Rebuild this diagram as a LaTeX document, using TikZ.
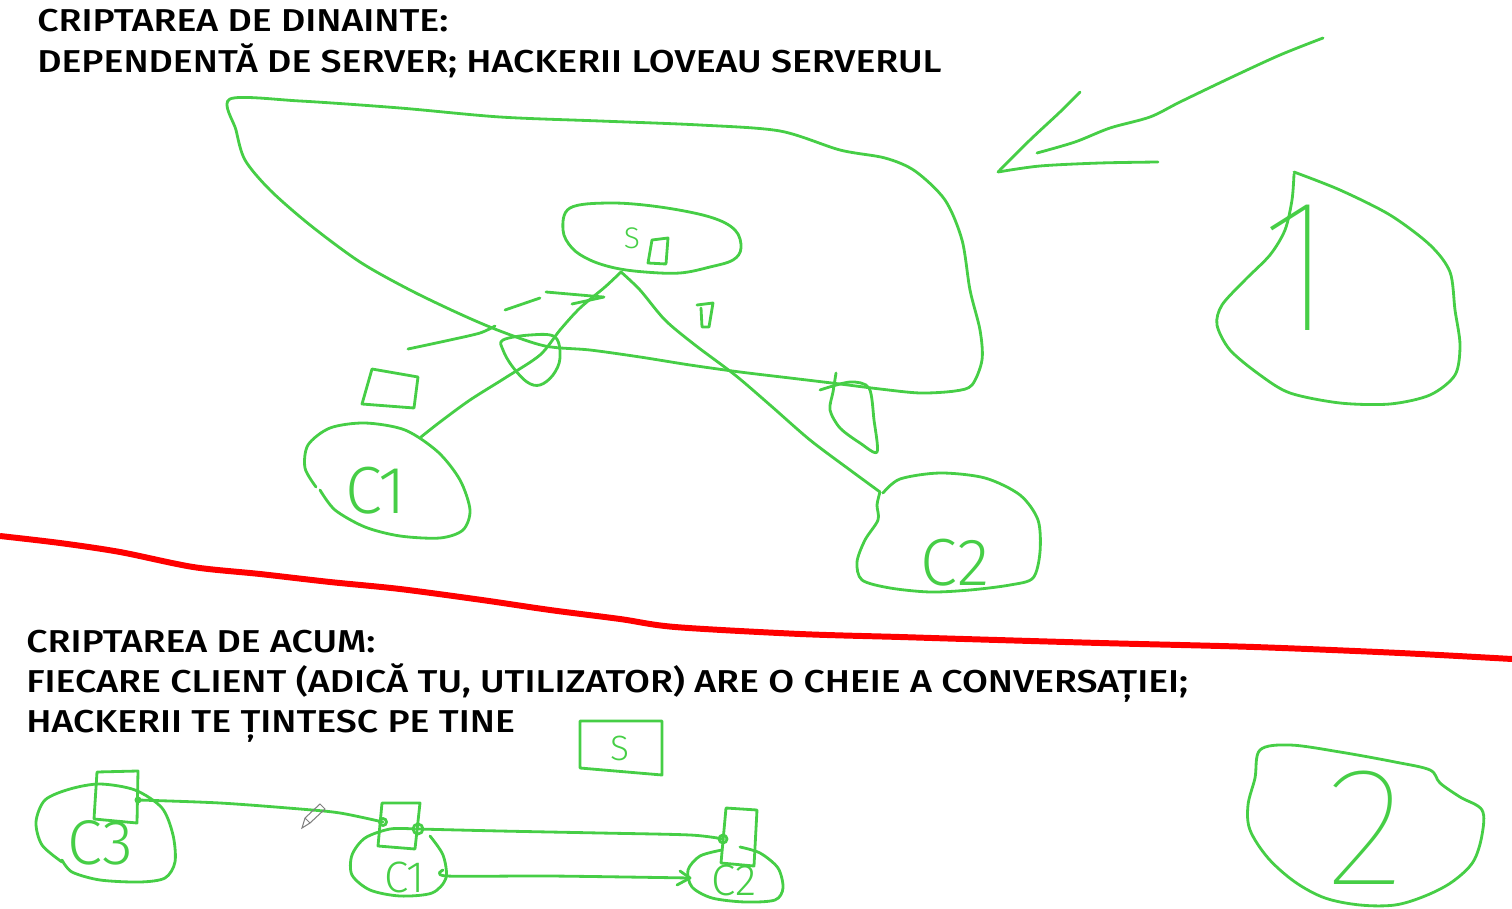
\documentclass[tikz,border=0pt]{standalone}
\usepackage{fontspec}
\setmainfont{Fira Sans}
\newfontfamily\headfont{Fira Sans Medium}[FakeStretch=1.185]
\newfontfamily\handfont{Fira Sans Light}
\newfontfamily\thinfont{Fira Sans Thin}
\usetikzlibrary{positioning,calc}
\definecolor{pen}{RGB}{70,206,70}
\definecolor{cutline}{RGB}{255,0,0}

\begin{document}
\begin{tikzpicture}[x=0.02cm,y=-0.02cm,
         ink/.style = {draw=pen, line width=1.6pt, line cap=round, line join=round},
         cut/.style = {draw=cutline, line width=3.4pt},
         heading/.style = {anchor=base west, inner sep=0pt,
         font=\headfont\fontsize{18}{20}\selectfont},
         hand/.style = {text=pen, inner sep=0pt, font=\handfont},
         bighand/.style = {text=pen, inner sep=0pt, font=\thinfont}
]
      \useasboundingbox (0,0) rectangle (1512,909);

      % headings
      \node[heading] (h1) at (37,32) {CRIPTAREA DE DINAINTE:};
      \node[heading] (h2) at (37,73) {DEPENDENTĂ DE SERVER; HACKERII LOVEAU SERVERUL};
      \node[heading] (h3) at (26,652) {CRIPTAREA DE ACUM:};
      \node[heading] (h4) at (26,692) {FIECARE CLIENT (ADICĂ TU, UTILIZATOR) ARE O CHEIE A CONVERSAȚIEI;};
      \node[heading] (h5) at (26,732) {HACKERII TE ȚINTESC PE TINE};

      % separator
      \draw[cut] plot[smooth] coordinates {(0,536) (60,543) (120,552) (193,567)
         (260,574) (330,582) (400,589) (482,600) (550,610) (620,619) (675,627)
         (800,634) (900,637) (964,639) (1100,643) (1254,647) (1400,653) (1512,659)};

      % --- before: server in the middle ---
      \coordinate (s0) at (621,272);
      \coordinate (c1top) at (421,437);
      \coordinate (c2top) at (880,492);

      % big loop
      \draw[ink] plot[smooth cycle, tension=0.5] coordinates {(230,99) (300,101)
         (400,108) (500,117) (600,121) (700,125) (780,131) (840,150) (885,158)
         (915,171) (945,200) (962,240) (970,290) (980,330) (982,360) (972,385)
         (955,391) (920,393) (880,389) (840,384) (790,378) (740,372) (690,365)
         (640,357) (590,350) (545,346) (500,331) (460,314) (410,290) (360,262)
         (310,225) (270,190) (245,160) (236,130)};

      % server
      \draw[ink] plot[smooth cycle, tension=0.6] coordinates {(570,208) (610,203)
         (660,207) (710,217) (735,230) (741,248) (733,260) (710,267) (680,273)
         (645,272) (615,268) (590,260) (572,248) (563,230)};
      \node[hand, font=\handfont\fontsize{17}{17}\selectfont] (sname) at (632,238) {S};
      \draw[ink] (652,240) -- (668,238) -- (666,264) -- (648,263) -- cycle;

      % links to the clients
      \draw[ink] plot[smooth] coordinates {(s0) (605,287) (580,308) (560,330)
         (540,355) (505,378) (470,400) (440,422) (c1top)};
      \draw[ink] plot[smooth] coordinates {(s0) (640,290) (665,320) (695,345)
         (735,375) (770,405) (810,440) (850,470) (c2top)};

      % attack on the link
      \draw[ink] plot[smooth] coordinates {(408,349) (450,340) (480,333) (495,326)};
      \draw[ink] plot[smooth cycle, tension=0.6] coordinates {(503,340) (530,335)
         (555,337) (560,358) (553,375) (540,385) (527,382) (512,366) (503,350)};
      \draw[ink] (505,310) -- (540,298);
      \draw[ink] (546,292) -- (603,297);
      \draw[ink] (572,304) -- (604,297);

      % keys
      \draw[ink] (372,369) -- (418,377) -- (414,408) -- (362,404) -- cycle;
      \draw[ink] (697,305) -- (713,303) -- (709,327) -- (702,327) -- (701,308);
      \draw[ink] plot[smooth] coordinates {(836,373) (833,392) (830,410) (840,428)
         (860,443) (877,452) (874,420) (869,388) (850,382) (820,390)};

      % client 1
      \draw[ink] plot[smooth] coordinates {(316,487) (305,468) (308,445) (330,428)
         (365,423) (405,430) (438,452) (460,480) (470,510) (463,530) (440,538)
         (400,536) (365,527) (335,510) (320,490)};
      \node[hand, font=\handfont\fontsize{38}{38}\selectfont] (c1) at (376,491) {C1};

      % client 2
      \draw[ink] plot[smooth] coordinates {(c2top) (877,505) (878,520) (865,540)
         (857,562) (862,580) (890,588) (930,592) (970,590) (1010,585) (1033,578)
         (1040,552) (1038,520) (1020,495) (985,478) (940,473) (900,479) (883,493)};
      \node[hand, font=\handfont\fontsize{38}{38}\selectfont] (c2) at (955,563) {C2};

      % arrow to the server
      \draw[ink] plot[smooth] coordinates {(1323,38) (1280,55) (1230,78) (1180,102)
         (1150,117) (1110,128) (1075,142) (1037,153)};
      \draw[ink] plot[smooth] coordinates {(1080,92) (1060,112) (1030,140) (998,172)};
      \draw[ink] plot[smooth] coordinates {(998,172) (1040,166) (1100,163) (1158,162)};

      % mark 1
      \draw[ink] plot[smooth] coordinates {(1294,172) (1340,190) (1390,215)
         (1430,245) (1450,272) (1455,310) (1460,345) (1455,375) (1430,395)
         (1390,404) (1340,403) (1290,393) (1260,375) (1230,350) (1217,325)
         (1222,305) (1245,280) (1270,255) (1285,230) (1292,200) (1294,174)};
      \node[bighand, font=\thinfont\fontsize{108}{108}\selectfont] (one) at (1298,268) {1};

      % --- now: end to end ---
      \draw[ink] (580,721) -- (662,721) -- (662,775) -- (580,768) -- cycle;
      \node[hand, font=\handfont\fontsize{20}{20}\selectfont] (snow) at (620,748) {S};

      % client 3
      \draw[ink] plot[smooth] coordinates {(62,862) (42,845) (36,822) (45,800)
         (70,789) (100,784) (135,790) (162,808) (173,835) (175,862) (165,878)
         (140,882) (100,880) (72,872) (62,860)};
      \draw[ink] (97,772) -- (138,771) -- (137,823) -- (94,819) -- cycle;
      \node[hand, font=\handfont\fontsize{36}{36}\selectfont] (c3) at (100,843) {C3};

      % client 1
      \draw[ink] (382,803) -- (420,803) -- (415,849) -- (378,846) -- cycle;
      \draw[ink] plot[smooth] coordinates {(430,836) (443,855) (446,878) (432,893)
         (400,896) (370,890) (352,875) (352,855) (365,838) (390,829) (415,829)};
      \node[hand, font=\handfont\fontsize{25}{25}\selectfont] (c1b) at (405,877) {C1};

      % client 2
      \draw[ink] (726,808) -- (757,810) -- (754,866) -- (721,863) -- cycle;
      \draw[ink] plot[smooth] coordinates {(722,850) (700,856) (688,870) (692,887)
         (712,898) (745,902) (775,900) (783,888) (778,868) (760,853) (740,847)};
      \node[hand, font=\handfont\fontsize{25}{25}\selectfont] (c2b) at (734,880) {C2};

      % key exchange
      \coordinate (k3) at (138,800);
      \coordinate (k1a) at (383,822);
      \coordinate (k1b) at (418,829);
      \coordinate (k2) at (723,839);
      \draw[ink] plot[smooth] coordinates {(k3) (220,803) (300,809) (340,813) (k1a)};
      \draw[ink] plot[smooth] coordinates {(k1b) (500,831) (600,833) (690,835) (k2)};
      \fill[pen] (k3) circle (3.5);
      \draw[ink] (k1a) circle (3.5);
      \draw[ink] (k1b) circle (5);
      \draw[ink] (k2) circle (4);

      % message
      \draw[ink] plot[smooth] coordinates {(443,870) (447,876) (550,876) (690,878)};
      \draw[ink] (680,871) -- (690,878) -- (677,885);

      % pencil
      \draw[gray, line width=0.6pt] (302,828) -- (305,818) -- (320,804) -- (325,809)
         -- (310,823) -- cycle (305,818) -- (310,823);

      % mark 2
      \draw[ink] plot[smooth cycle, tension=0.55] coordinates {(1260,750) (1290,745)
         (1340,752) (1395,762) (1430,770) (1440,783) (1460,797) (1482,810)
         (1482,835) (1473,862) (1452,882) (1425,896) (1395,905) (1360,905)
         (1325,898) (1295,882) (1268,858) (1250,830) (1248,805) (1255,778)};
      \node[bighand, font=\thinfont\fontsize{96}{96}\selectfont] (two) at (1366,828) {2};
\end{tikzpicture}
\end{document}
